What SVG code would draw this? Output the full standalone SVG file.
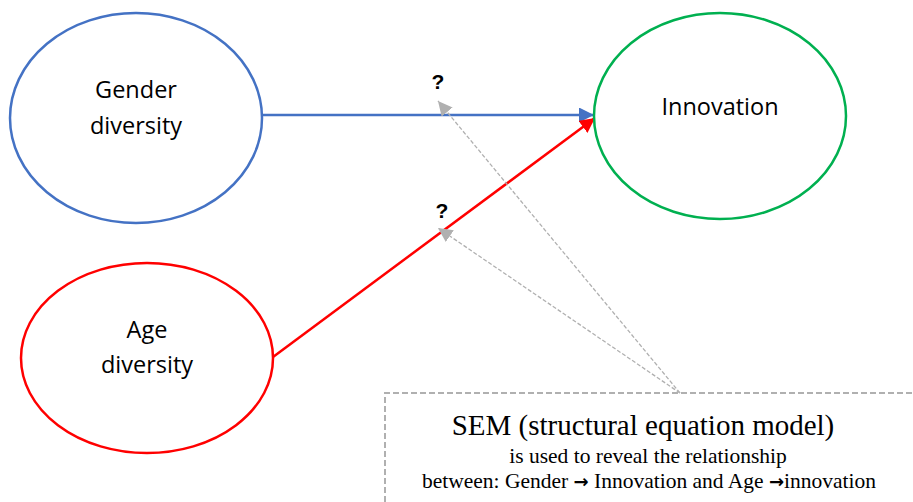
<svg xmlns="http://www.w3.org/2000/svg" width="913" height="502" viewBox="0 0 913 502">
<style>
.node{fill:#fff;stroke-width:2.5}
.lbl{font-family:"Open Sans","Noto Sans",sans-serif;font-size:23.5px;fill:#000;text-anchor:middle}
.q{font-family:"Liberation Sans",Arial,sans-serif;font-size:21px;font-weight:bold;fill:#000;text-anchor:middle}
.sem{font-family:"Liberation Serif","Times New Roman",serif;fill:#000;text-anchor:middle}
.arr{font-family:"DejaVu Sans",sans-serif;font-weight:bold}
.gray{stroke:#b0b0b0;stroke-width:1.3;stroke-dasharray:4 2;fill:none}
</style>
<defs>
<marker id="ab" viewBox="0 0 10 10" refX="10" refY="5" markerWidth="6" markerHeight="6" orient="auto" markerUnits="strokeWidth"><path d="M0,0 L10,5 L0,10 z" fill="#4472c4"/></marker>
<marker id="ar" viewBox="0 0 10 10" refX="10" refY="5" markerWidth="6" markerHeight="6" orient="auto" markerUnits="strokeWidth"><path d="M0,0 L10,5 L0,10 z" fill="#ff0000"/></marker>
<marker id="ag" viewBox="0 0 10 10" refX="10" refY="5" markerWidth="11" markerHeight="11" orient="auto" markerUnits="strokeWidth"><path d="M0,0 L10,5 L0,10 z" fill="#b0b0b0"/></marker>
</defs>
<g id="connectors">
<line x1="262" y1="115" x2="594" y2="115" stroke="#4472c4" stroke-width="2.5" marker-end="url(#ab)"/>
<line x1="273" y1="357" x2="595" y2="118" stroke="#ff0000" stroke-width="2.5" marker-end="url(#ar)"/>
<line class="gray" x1="680" y1="393" x2="438" y2="101" marker-end="url(#ag)"/>
<line class="gray" x1="680" y1="393" x2="438" y2="228" marker-end="url(#ag)"/>
<text class="q" x="438" y="89">?</text>
<text class="q" x="442" y="218">?</text>
</g>
<g id="gender">
<ellipse class="node" cx="136" cy="118" rx="126" ry="105" stroke="#4472c4"/>
<text class="lbl" x="136" y="98">Gender</text>
<text class="lbl" x="136" y="134">diversity</text>
</g>
<g id="innovation">
<ellipse class="node" cx="720" cy="116" rx="126" ry="103" stroke="#00b050"/>
<text class="lbl" x="720" y="115">Innovation</text>
</g>
<g id="age">
<ellipse class="node" cx="147" cy="358" rx="126" ry="95" stroke="#ff0000"/>
<text class="lbl" x="147" y="338">Age</text>
<text class="lbl" x="147" y="373">diversity</text>
</g>
<g id="sem">
<path d="M385,502 L385,393 L913,393" fill="none" stroke="#b0b0b0" stroke-width="2" stroke-dasharray="6 3"/>
<text class="sem" x="643" y="435" font-size="29">SEM (structural equation model)</text>
<text class="sem" x="648" y="463" font-size="21.5">is used to reveal the relationship</text>
<text class="sem" x="649" y="488" font-size="21.5">between: Gender <tspan class="arr" font-size="18">→</tspan> Innovation and Age <tspan class="arr" font-size="18">→</tspan>innovation</text>
</g>
</svg>
